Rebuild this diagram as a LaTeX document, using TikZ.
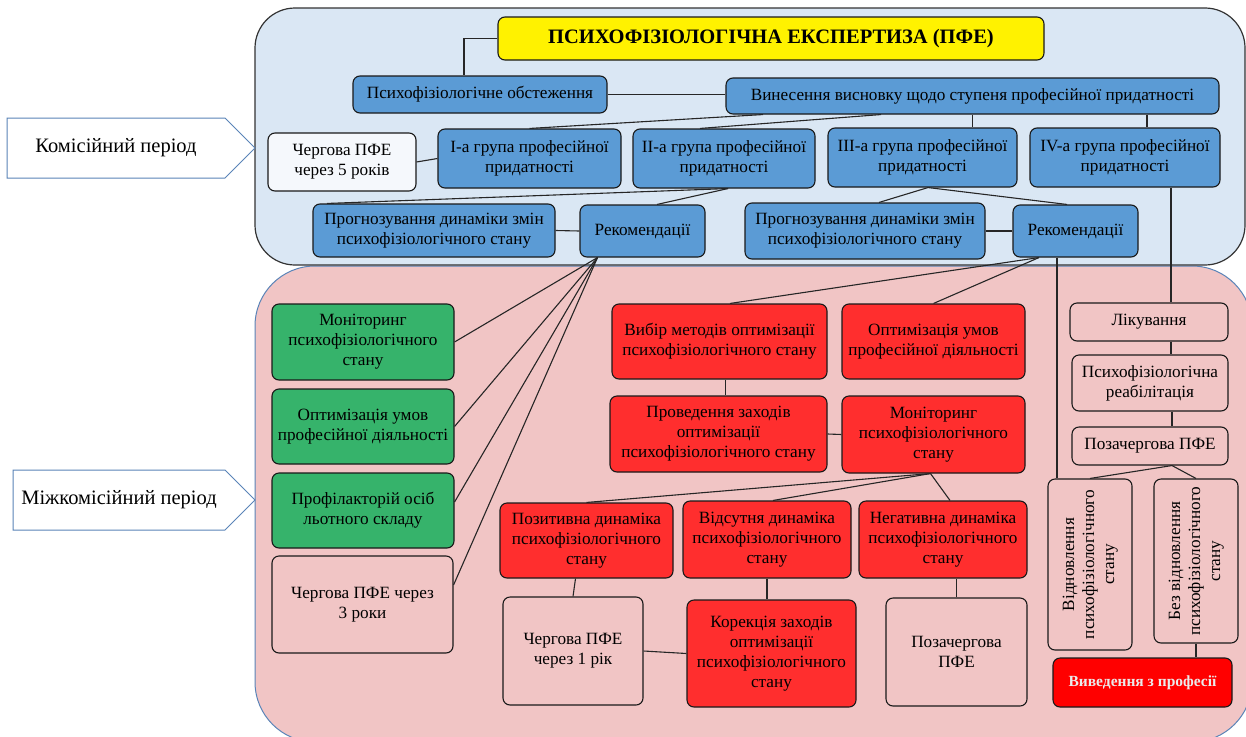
\documentclass[tikz,border=0pt]{standalone}
\usepackage{fontspec}
\setmainfont{Liberation Serif}
\usepackage{graphicx}
\usetikzlibrary{shapes}
\definecolor{zoneblue}{HTML}{DAE7F4}
\definecolor{zonepink}{HTML}{F1C5C5}
\definecolor{zoneline}{HTML}{5A84B8}
\definecolor{cellblue}{HTML}{5B9BD5}
\definecolor{cellgreen}{HTML}{36B36B}
\definecolor{cellred}{HTML}{FF2E2E}
\definecolor{exitred}{HTML}{FF0000}
\definecolor{cellwhite}{HTML}{F5F8FC}

\begin{document}
\begin{tikzpicture}[x=1pt,y=-1pt,every node/.style={draw=black!90, line width=1.1pt, rounded corners=7pt, align=center, inner sep=1pt, font=\fontsize{17.2}{20}\selectfont},titlecell/.style={fill=yellow, font=\bfseries\fontsize{20.5}{22}\selectfont},bluecell/.style={fill=cellblue},greencell/.style={fill=cellgreen},redcell/.style={fill=cellred},pinkcell/.style={fill=zonepink},whitecell/.style={fill=cellwhite},exitcell/.style={fill=exitred, text=white!92!black, font=\bfseries\fontsize{15.5}{18}\selectfont},period/.style={signal, signal to=east, signal pointer angle=90, sharp corners, draw=zoneline, fill=white, line width=1pt, font=\fontsize{20.5}{22}\selectfont},link/.style={line width=1.1pt, draw=black!85}]
\useasboundingbox (0,0) rectangle (1246,736);
\fill[white] (0,0) rectangle (1246,736);
\draw[zoneline, fill=zonepink, line width=1pt, rounded corners=60] (255,266) rectangle (1252,742);
\draw[black!80, fill=zoneblue, line width=1.2pt, rounded corners=40] (255,8) rectangle (1245,265);
\node[period, minimum width=248, minimum height=60] (kom) at (116,148) {Комісійний період};
\node[period, minimum width=242, minimum height=60] (mizh) at (119,500) {Міжкомісійний період};
\node[titlecell, minimum width=546, minimum height=43] (title) at (771,38.5) {ПСИХОФІЗІОЛОГІЧНА ЕКСПЕРТИЗА (ПФЕ)};
\node[bluecell, minimum width=254, minimum height=37] (obst) at (480,94.5) {Психофізіологічне обстеження};
\node[bluecell, minimum width=493, minimum height=36] (vysn) at (972.5,96) {Винесення висновку щодо ступеня професійної придатності};
\node[whitecell, minimum width=148, minimum height=58] (cherg5) at (342,162) {Чергова ПФЕ\\через 5 років};
\node[bluecell, minimum width=183, minimum height=59] (gr1) at (529.5,158.5) {I-а група професійної\\придатності};
\node[bluecell, minimum width=182, minimum height=59] (gr2) at (724,158.5) {II-а група професійної\\придатності};
\node[bluecell, minimum width=189, minimum height=59] (gr3) at (922.5,157.5) {III-а група професійної\\придатності};
\node[bluecell, minimum width=190, minimum height=59] (gr4) at (1125,157.5) {IV-а група професійної\\придатності};
\node[bluecell, minimum width=242, minimum height=53] (prog1) at (434,230.5) {Прогнозування динаміки змін\\психофізіологічного стану};
\node[bluecell, minimum width=125, minimum height=52] (rec1) at (642.5,231) {Рекомендації};
\node[bluecell, minimum width=240, minimum height=56] (prog2) at (865,231) {Прогнозування динаміки змін\\психофізіологічного стану};
\node[bluecell, minimum width=125, minimum height=52] (rec2) at (1075.5,231) {Рекомендації};
\node[greencell, minimum width=182, minimum height=76] (mon) at (363,342) {Моніторинг\\психофізіологічного\\стану};
\node[greencell, minimum width=182, minimum height=75] (opt) at (363,426.5) {Оптимізація умов\\професійної діяльності};
\node[greencell, minimum width=182, minimum height=75] (prof) at (363,510.5) {Профілакторій осіб\\льотного складу};
\node[pinkcell, minimum width=181, minimum height=97] (cherg3) at (362.5,604.5) {Чергова ПФЕ через\\3 роки};
\node[redcell, minimum width=215, minimum height=75] (vybir) at (719.5,341.5) {Вибір методів оптимізації\\психофізіологічного стану};
\node[redcell, minimum width=183, minimum height=75] (optr) at (933.5,341.5) {Оптимізація умов\\професійної діяльності};
\node[redcell, minimum width=217, minimum height=76] (prov) at (718.5,434) {Проведення заходів\\оптимізації\\психофізіологічного стану};
\node[redcell, minimum width=183, minimum height=77] (monr) at (933.5,434.5) {Моніторинг\\психофізіологічного\\стану};
\node[redcell, minimum width=173, minimum height=75] (poz) at (586.5,540.5) {Позитивна динаміка\\психофізіологічного\\стану};
\node[redcell, minimum width=168, minimum height=77] (vids) at (767,539.5) {Відсутня динаміка\\психофізіологічного\\стану};
\node[redcell, minimum width=168, minimum height=77] (neg) at (943,539.5) {Негативна динаміка\\психофізіологічного\\стану};
\node[pinkcell, minimum width=140, minimum height=108] (cherg1) at (573,651) {Чергова ПФЕ\\через 1 рік};
\node[redcell, minimum width=169, minimum height=107] (kor) at (771.5,653.5) {Корекція заходів\\оптимізації\\психофізіологічного\\стану};
\node[pinkcell, minimum width=141, minimum height=108] (pozach) at (956.5,652) {Позачергова\\ПФЕ};
\node[pinkcell, minimum width=158, minimum height=38] (lik) at (1149,322) {Лікування};
\node[pinkcell, minimum width=156, minimum height=56] (reab) at (1150,383) {Психофізіологічна\\реабілітація};
\node[pinkcell, minimum width=156, minimum height=38] (pozr) at (1150,446) {Позачергова ПФЕ};
\node[pinkcell, minimum width=84, minimum height=171] (vidn) at (1090,564.5) {\rotatebox{90}{\begin{tabular}{@{}c@{}}Відновлення\\психофізіологічного\\стану\end{tabular}}};
\node[pinkcell, minimum width=84, minimum height=164] (bez) at (1196,561) {\rotatebox{90}{\begin{tabular}{@{}c@{}}Без відновлення\\психофізіологічного\\стану\end{tabular}}};
\node[exitcell, minimum width=179, minimum height=49] (vyv) at (1142.5,682.5) {Виведення з професії};
\draw[link] (title.west) -| ([xshift=-16]obst.north);
\draw[link] (obst.east) -- (obst.east -| vysn.west);
\draw[link] ([xshift=-209.5]vysn.south) -- (gr1.north);
\draw[link] ([xshift=-91.5]vysn.south) -- ([xshift=-24]gr2.north);
\draw[link] (vysn.south) -- (vysn.south |- gr3.north);
\draw[link] ([xshift=174.5]vysn.south) -- ([xshift=174.5]vysn.south |- gr4.north);
\draw[link] (cherg5.east) -- (gr1.west);
\draw[link] ([xshift=4]gr2.south) -- ([xshift=-107]prog1.north);
\draw[link] ([xshift=4]gr2.south) -- ([xshift=14.5]rec1.north);
\draw[link] ([xshift=5.5]gr3.south) -- ([xshift=14]prog2.north);
\draw[link] ([xshift=5.5]gr3.south) -- ([xshift=-8.5]rec2.north);
\draw[link] (prog1.east) -- (rec1.west);
\draw[link] (prog2.east) -- (rec2.west);
\draw[link] ([xshift=46]gr4.south) -- ([xshift=46]gr4.south |- lik.north);
\coordinate (rfan) at ([xshift=-45]rec1.south);
\draw[link] (rfan) -- (mon.east);
\draw[link] (rfan) -- (opt.east);
\draw[link] (rfan) -- ([yshift=8.5]prof.east);
\draw[link] (rfan) -- ([yshift=19.5]cherg3.east);
\draw[link] ([xshift=-36.5]rec2.south) -- ([xshift=10.5]vybir.north);
\draw[link] ([xshift=-36.5]rec2.south) -- (optr.north);
\draw[link] ([xshift=-18.5]rec2.south) -- ([xshift=-18.5]rec2.south |- vidn.north);
\draw[link] ([xshift=6]vybir.south) -- ([xshift=6]vybir.south |- prov.north);
\draw[link] (prov.east) -- (monr.west);
\draw[link] ([xshift=-3]monr.south) -- (poz.north);
\draw[link] ([xshift=-3]monr.south) -- ([xshift=6]vids.north);
\draw[link] ([xshift=-3]monr.south) -- ([xshift=7]neg.north);
\draw[link] ([xshift=-11]poz.south) -- (cherg1.north);
\draw[link] (vids.south) -- (vids.south |- kor.north);
\draw[link] (pozach.north) -- (pozach.north |- neg.south);
\draw[link] (cherg1.east) -- (kor.west);
\draw[link] ([xshift=22]lik.south) -- ([xshift=22]lik.south |- reab.north);
\draw[link] ([xshift=22]reab.south) -- ([xshift=22]reab.south |- pozr.north);
\draw[link] ([xshift=22]pozr.south) -- (vidn.north);
\draw[link] ([xshift=22]pozr.south) -- (bez.north);
\draw[link] (bez.south) -- (bez.south |- vyv.north);
\end{tikzpicture}
\end{document}
